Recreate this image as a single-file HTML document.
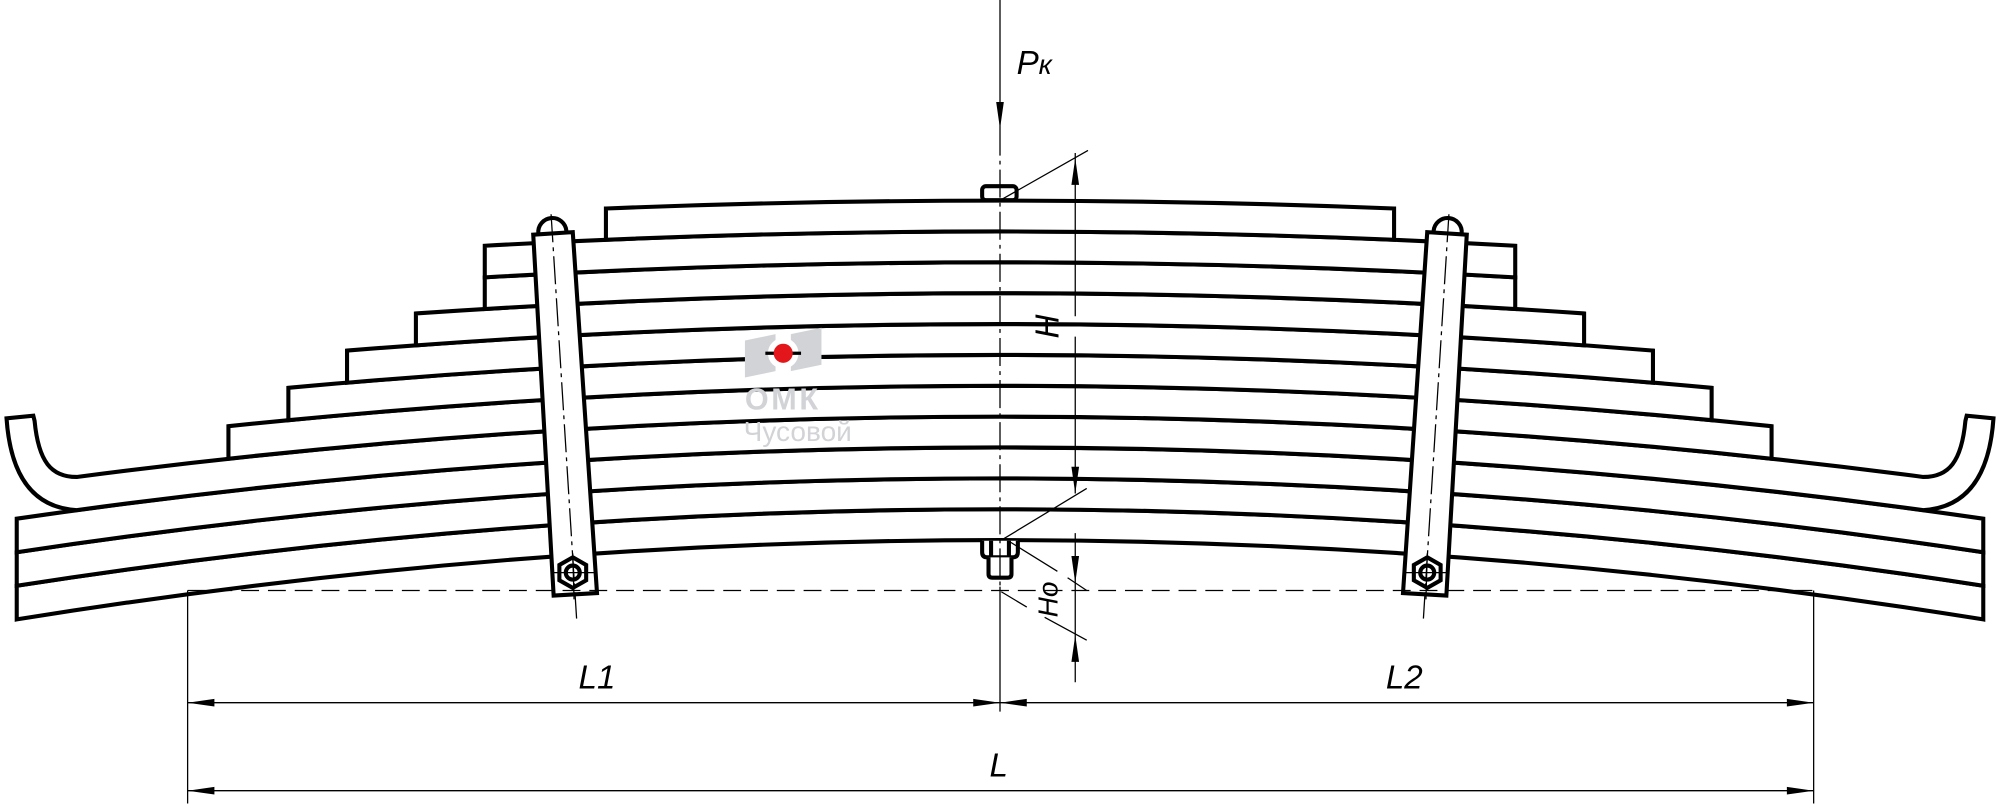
<!DOCTYPE html>
<html><head><meta charset="utf-8"><style>
html,body{margin:0;padding:0;background:#fff;}
svg{display:block;}
text{font-family:"Liberation Sans",sans-serif;}
</style></head><body>
<svg width="2000" height="806" viewBox="0 0 1568 632" xmlns="http://www.w3.org/2000/svg">
<rect width="1568" height="632" fill="#fff"/>
<g fill="#fff" stroke="#000" stroke-width="3.2" stroke-linejoin="miter">
<path d="M13 459.3 Q784 339.3 1555 459.3 L1555 485.7 Q784 361.3 13 485.7 Z"/>
<path d="M13 433 Q784 317.2 1555 433 L1555 459.3 Q784 339.3 13 459.3 Z"/>
<path d="M13 406.7 Q784 295.1 1555 406.7 L1555 433 Q784 317.2 13 433 Z"/>
<path d="M60 374 Q784 279.4 1508 374 C1528 374 1538 362 1541 330 L1542 326 L1563 328 C1560 372 1543 398 1508 400 Q784 301.7 60 400 C25 398 8 372 5 328 L26 326 L27 330 C30 362 40 374 60 374 Z"/>
<path d="M179 334.2 Q784 270.8 1389 334.2 L1389 359.7 Q784 293.7 179 359.7 Z"/>
<path d="M226 304.1 Q784 252.5 1342 304.1 L1342 329.5 Q784 275.5 226 329.5 Z"/>
<path d="M272 274.9 Q784 233.3 1296 274.9 L1296 300.1 Q784 256.5 272 300.1 Z"/>
<path d="M326 245.8 Q784 214 1242 245.8 L1242 270.8 Q784 237.4 326 270.8 Z"/>
<path d="M380 217.5 Q784 193.9 1188 217.5 L1188 242.3 Q784 217.5 380 242.3 Z"/>
<path d="M380 192.7 Q784 170.3 1188 192.7 L1188 217.5 Q784 193.9 380 217.5 Z"/>
<path d="M475 163.5 Q784 151.1 1093 163.5 L1093 188 Q784 175 475 188 Z"/>
<path d="M422 183 A11 11 0 0 1 444 181"/>
<path d="M1146 183 A11 11 0 0 0 1124 181"/>
<polygon points="418,184 449,182 468,465 434,467"/>
<polygon points="1150,184 1119,182 1100,465 1134,467"/>
<polygon points="449,437 459.5,443 459.5,455 449,461 438.5,455 438.5,443"/>
<polygon points="1119,437 1129.5,443 1129.5,455 1119,461 1108.5,455 1108.5,443"/>
<circle cx="449" cy="449" r="5.5"/>
<circle cx="1119" cy="449" r="5.5"/>
<rect x="770" y="146" width="27" height="11" rx="3"/>
<path d="M770 424 L770 433 Q770 437 774 437 L794 437 Q798 437 798 433 L798 424"/>
<path d="M777 424 L777 437 M791 424 L791 437"/>
<path d="M775 437 L775 450 Q775 453 778 453 L790 453 Q793 453 793 450 L793 437"/>
</g>
<g stroke="#000" stroke-width="1" fill="none">
<path d="M432 168 L452 485" stroke-dasharray="22 4 3 4"/>
<path d="M1136 168 L1116 485" stroke-dasharray="22 4 3 4"/>
<path d="M432 449 L466 449 M449 434 L450 470"/>
<path d="M1102 449 L1136 449 M1119 434 L1118 470"/>
<path d="M784 100 L784 460" stroke-dasharray="22 4 3 4"/>
<path d="M784 460 L784 558"/>
<path d="M784 0 L784 100"/>
<path d="M147 463 L1422 463" stroke-dasharray="14 7"/>
<path d="M147 463 L147 630 M1422 463 L1422 630"/>
<path d="M147 551 L1422 551 M147 620 L1422 620"/>
<path d="M786 156 L853 118 M786 423 L852 383"/>
<path d="M843 120 L843 248 M843 264 L843 387"/>
<path d="M843 418 L843 535"/>
<path d="M792 425 L829 448 M785 464 L805 476 M819 484 L852 502 M837 453 L852 463"/>
</g>
<g fill="#000">
<polygon points="784,101 781,80 787,80"/>
<polygon points="843,124 840,145 846,145"/>
<polygon points="843,387 840,366 846,366"/>
<polygon points="843,457 840,436 846,436"/>
<polygon points="843,498 840,519 846,519"/>
<polygon points="147,551 168,548 168,554"/>
<polygon points="784,551 763,548 763,554"/>
<polygon points="784,551 805,548 805,554"/>
<polygon points="1422,551 1401,548 1401,554"/>
<polygon points="147,620 168,617 168,623"/>
<polygon points="1422,620 1401,617 1401,623"/>
</g>
<g>
<polygon points="584,267 608,262 608,291 584,296" fill="#d2d3d6"/>
<polygon points="620,262 644,257 644,286 620,291" fill="#d2d3d6"/>
<circle cx="614" cy="277" r="12" fill="#fff"/>
<line x1="600" y1="277" x2="628" y2="277" stroke="#000" stroke-width="2.5"/>
<circle cx="614" cy="277" r="7.5" fill="#e3161b"/>
<text x="584" y="321" font-size="24" font-weight="bold" fill="#d2d3d6" letter-spacing="2">ОМК</text>
<text x="583" y="346" font-size="22" fill="#d2d3d6">Чусовой</text>
</g>
<g font-style="italic" font-size="26" fill="#000">
<text x="797" y="58">P<tspan font-size="22">к</tspan></text>
<text transform="translate(830,256) rotate(-90)" text-anchor="middle">H</text>
<text transform="translate(829,470) rotate(-90)" text-anchor="middle" font-size="22">Ho</text>
<text x="468" y="540" text-anchor="middle">L1</text>
<text x="1101" y="540" text-anchor="middle">L2</text>
<text x="783" y="609" text-anchor="middle">L</text>
</g>
</svg>
</body></html>
